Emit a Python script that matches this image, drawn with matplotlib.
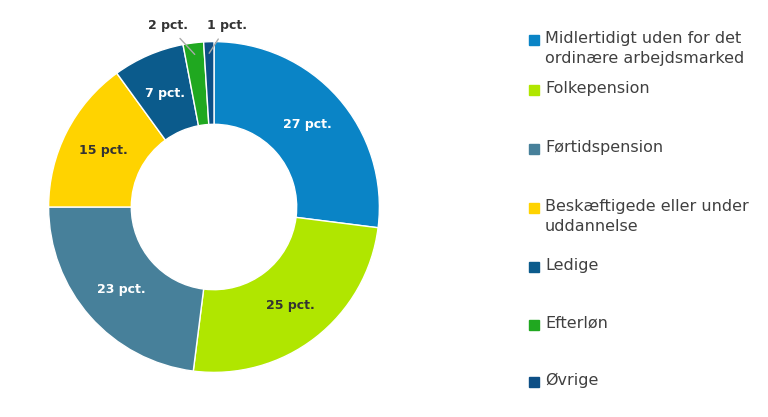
import matplotlib
matplotlib.use("Agg")
import matplotlib.pyplot as plt
import numpy as np

categories = ["Midlertidigt uden for det\nordinære arbejdsmarked", "Folkepension", "Førtidspension",
              "Beskæftigede eller under\nuddannelse", "Ledige", "Efterløn", "Øvrige"]
values = [27, 25, 23, 15, 7, 2, 1]
labels = ["27 pct.", "25 pct.", "23 pct.", "15 pct.", "7 pct.", "2 pct.", "1 pct."]
colors = ["#0a84c6", "#b0e600", "#47809a", "#ffd300", "#0b5b8c", "#20a820", "#0d4f86"]
label_colors = ["white", "#333333", "white", "#333333", "white", "#333333", "#333333"]

fig = plt.figure(figsize=(7.68, 4.17), dpi=100)
ax = fig.add_axes([(214-172)/768, 1-(207+172)/417, 344/768, 344/417])
wedges, _ = ax.pie(values, colors=colors, startangle=90, counterclock=False,
                   wedgeprops=dict(width=0.5, edgecolor="white", linewidth=1))
ax.set_xlim(-1.04, 1.04); ax.set_ylim(-1.04, 1.04)
ax.set_aspect("equal")

for w, lab, c in zip(wedges[:5], labels[:5], label_colors[:5]):
    ang = np.deg2rad((w.theta1 + w.theta2) / 2)
    ax.text(0.75*np.cos(ang), 0.75*np.sin(ang), lab, ha="center", va="center",
            color=c, fontsize=9, fontweight="bold")
# outside labels
for w, lab, tx in zip(wedges[5:], labels[5:], [-0.28, 0.08]):
    ang = np.deg2rad((w.theta1 + w.theta2) / 2)
    x0, y0 = 0.93*np.cos(ang), 0.93*np.sin(ang)
    ty = 1.1
    ax.annotate(lab, xy=(x0, y0), xytext=(tx, ty), ha="center", va="center",
                fontsize=9, fontweight="bold", color="#333333", annotation_clip=False,
                arrowprops=dict(arrowstyle="-", color="#aaaaaa", lw=1,
                                shrinkA=4, shrinkB=0))

ys = [382, 326, 267, 209, 150, 91, 32]
tops = [40, 90, 149, 208, 267, 325, 382]
for cat, col, y in zip(categories, colors, tops):
    fig.patches.append(plt.Rectangle((529/768, 1-(y+5)/417), 10/768, 10/417,
                                     transform=fig.transFigure, color=col))
    fig.text(545/768, 1-(y-9)/417, cat, ha="left", va="top", fontsize=11.5,
             color="#404040", linespacing=1.45)

fig.savefig("out.png", dpi=100)
